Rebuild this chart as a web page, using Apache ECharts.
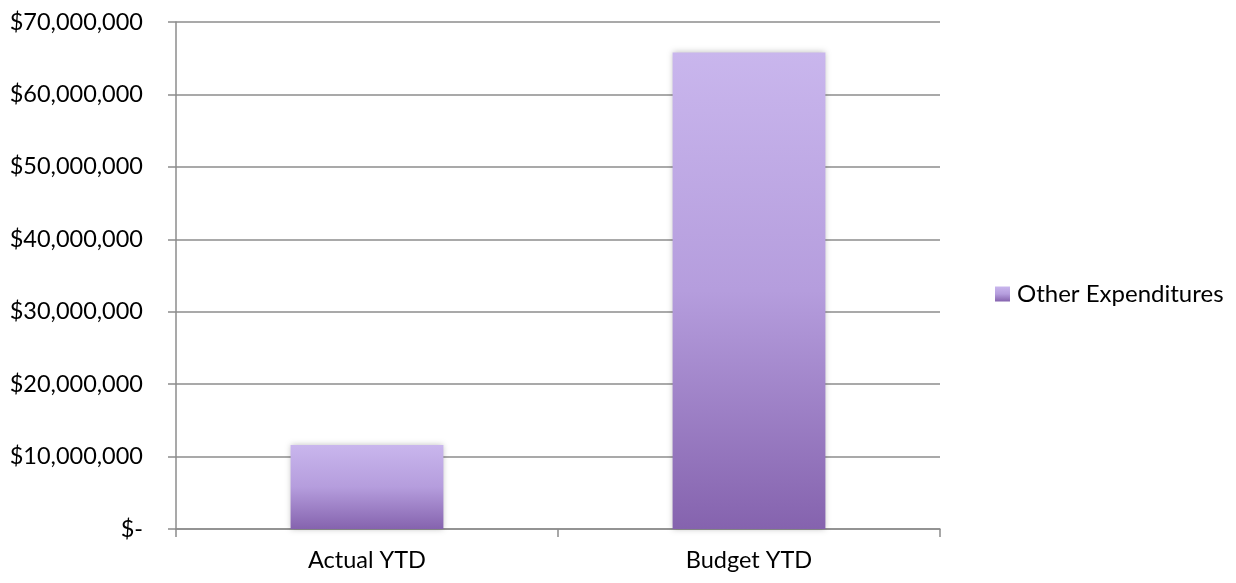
<!DOCTYPE html>
<html>
<head>
<meta charset="utf-8">
<script src="https://cdn.jsdelivr.net/npm/echarts@6/dist/echarts.min.js"></script>
<style>html,body{margin:0;padding:0;background:#fff}#c{width:1236px;height:583px}</style>
</head>
<body>
<div id="c"></div>
<script>
const categories = ["Actual YTD", "Budget YTD"];
const seriesName = "Other Expenditures";
const values = [11600000, 65800000];
const yTicks = [0, 10000000, 20000000, 30000000, 40000000, 50000000, 60000000, 70000000];

function fmt(v) {
  if (v === 0) return "$-";
  return "$" + v.toLocaleString("en-US");
}

const grad = new echarts.graphic.LinearGradient(0, 0, 0, 1, [
  { offset: 0, color: "#c9b6ed" },
  { offset: 0.5, color: "#b59ddd" },
  { offset: 1, color: "#8563ae" }
]);

const chart = echarts.init(document.getElementById("c"));
chart.setOption({
  animation: false,
  textStyle: { fontFamily: "Lato" },
  grid: { left: 176, right: 296, top: 22, bottom: 54 },
  legend: {
    data: [seriesName],
    left: 990, top: 277,
    itemWidth: 15, itemHeight: 15, itemGap: 8,
    icon: "rect",
    textStyle: { fontSize: 24, color: "#000", fontFamily: "Lato", padding: [0, 0, 0, 2] }
  },
  xAxis: {
    type: "category",
    data: categories,
    axisLine: { lineStyle: { color: "#8c8c8c", width: 1.5 } },
    axisTick: { show: true, length: 8, lineStyle: { color: "#8c8c8c", width: 1.5 } },
    axisLabel: { fontSize: 23.5, color: "#000", margin: 19, fontFamily: "Lato" }
  },
  yAxis: {
    type: "value",
    min: yTicks[0], max: yTicks[yTicks.length - 1], interval: 10000000,
    axisLine: { show: true, lineStyle: { color: "#8c8c8c", width: 1.5 } },
    axisTick: { show: true, length: 8, lineStyle: { color: "#8c8c8c", width: 1.5 } },
    splitLine: { show: true, lineStyle: { color: "#8c8c8c", width: 1.5 } },
    axisLabel: { fontSize: 23.5, color: "#000", margin: 33, formatter: fmt, fontFamily: "Lato" }
  },
  series: [{
    name: seriesName,
    type: "bar",
    data: values,
    barWidth: "40%",
    itemStyle: {
      color: grad,
      shadowBlur: 6,
      shadowColor: "rgba(0,0,0,0.25)",
      shadowOffsetX: 0,
      shadowOffsetY: 0
    }
  }]
});
</script>
</body>
</html>
